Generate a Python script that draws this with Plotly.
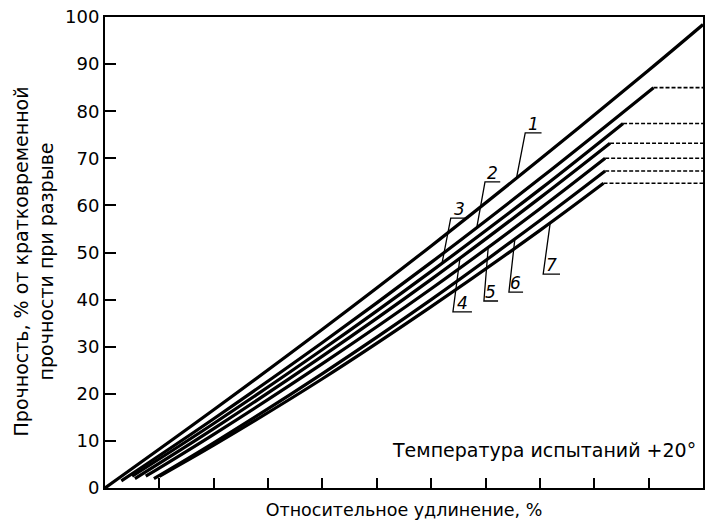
import numpy as np
import plotly.graph_objects as go

# curves: x = relative elongation (tick units), y = strength, %
x1 = [0, 2, 4, 6, 8, 10, 11]
y1 = [0, 16.6, 33.7, 51.4, 69.8, 88.7, 98.4]

x2 = [0.3, 2, 4, 6, 8, 10.09]
y2 = [1.5, 14.7, 30.9, 47.9, 65.7, 85.0]

x3 = [0.5, 2, 4, 6, 8, 9.53]
y3 = [2.5, 13.7, 29.4, 46.0, 63.4, 77.4]

x4 = [0.55, 2, 4, 6, 8, 9.29]
y4 = [2.0, 12.6, 28.0, 44.3, 61.6, 73.2]

x5 = [0.75, 2, 4, 6, 8, 9.2]
y5 = [2.5, 11.4, 26.4, 42.3, 59.3, 70.0]

x6 = [0.9, 2, 4, 6, 8, 9.2]
y6 = [2.0, 9.6, 24.3, 40.0, 56.8, 67.3]

x7 = [1.0, 2, 4, 6, 8, 9.17]
y7 = [2.5, 9.1, 23.2, 38.5, 54.7, 64.7]

curves = [(x1, y1), (x2, y2), (x3, y3), (x4, y4), (x5, y5), (x6, y6), (x7, y7)]
curve_names = ["1", "2", "3", "4", "5", "6", "7"]

x_max = 11
x_ticks = [1, 2, 3, 4, 5, 6, 7, 8, 9, 10]
y_ticks = [0, 10, 20, 30, 40, 50, 60, 70, 80, 90, 100]

# label leaders: underline start/end x, underline y, x where leader meets curve
leader_ux0 = [7.73, 6.99, 6.36, 6.40, 6.97, 7.43, 8.06]
leader_ux1 = [8.03, 7.27, 6.68, 6.75, 7.23, 7.69, 8.37]
leader_uy = [75.4, 65.0, 57.3, 37.4, 39.7, 41.6, 45.4]
leader_cx = [7.57, 6.84, 6.20, 6.53, 7.05, 7.54, 8.19]

FONT = "DejaVu Sans"

fig = go.Figure()

for (cx, cy), name in zip(curves, curve_names):
    fig.add_trace(go.Scatter(x=cx, y=cy, mode="lines", line=dict(color="black", width=3.2, shape="spline"),
                             showlegend=False, hoverinfo="skip"))
    if cx[-1] < x_max:
        # flat dashed continuation after the break point
        fig.add_trace(go.Scatter(x=[cx[-1], x_max], y=[cy[-1], cy[-1]], mode="lines",
                                 line=dict(color="black", width=1.6, dash="4px,2px"),
                                 showlegend=False, hoverinfo="skip"))

for i, name in enumerate(curve_names):
    cx, cy = curves[i]
    yc = float(np.interp(leader_cx[i], cx, cy))
    fig.add_trace(go.Scatter(x=[leader_cx[i], leader_ux0[i], leader_ux1[i]],
                             y=[yc, leader_uy[i], leader_uy[i]], mode="lines",
                             line=dict(color="black", width=1.3),
                             showlegend=False, hoverinfo="skip"))
    fig.add_annotation(x=(leader_ux0[i] + leader_ux1[i]) / 2, y=leader_uy[i], text="<i>" + name + "</i>",
                       showarrow=False, yanchor="bottom", yshift=-3,
                       font=dict(family=FONT, size=17, color="black"))

fig.add_annotation(x=1, y=0, xref="paper", yref="paper", xanchor="right", yanchor="bottom",
                   xshift=-5, yshift=25, showarrow=False, text="Температура испытаний +20°",
                   font=dict(family=FONT, size=19, color="black"))

fig.add_annotation(x=-0.118, y=0.482, xref="paper", yref="paper", xanchor="center", yanchor="middle",
                   textangle=-90, showarrow=False,
                   text="Прочность, % от кратковременной<br>прочности при разрыве",
                   font=dict(family=FONT, size=19, color="black"))

fig.update_layout(
    width=715, height=531,
    margin=dict(l=105, r=12, t=17, b=43),
    paper_bgcolor="white", plot_bgcolor="white",
    font=dict(family=FONT, size=17, color="black"),
    xaxis=dict(range=[0, x_max], tickvals=x_ticks, ticktext=[""] * len(x_ticks),
               ticks="inside", ticklen=10, tickwidth=1.5, tickcolor="black", automargin=False,
               showgrid=False, zeroline=False, showline=True, linecolor="black", linewidth=2,
               mirror=True,
               title=dict(text="Относительное удлинение, %", standoff=11,
                          font=dict(family=FONT, size=17.5))),
    yaxis=dict(range=[0, 100], tickvals=y_ticks, ticks="inside", ticklen=11, tickwidth=1.5,
               tickcolor="black", showgrid=False, zeroline=False, showline=True, automargin=False,
               linecolor="black", linewidth=2, mirror=True,
               tickfont=dict(family=FONT, size=18)),
)

fig.write_html("out.html", config={"displayModeBar": False},
               post_script="document.body.style.margin='0px';")
